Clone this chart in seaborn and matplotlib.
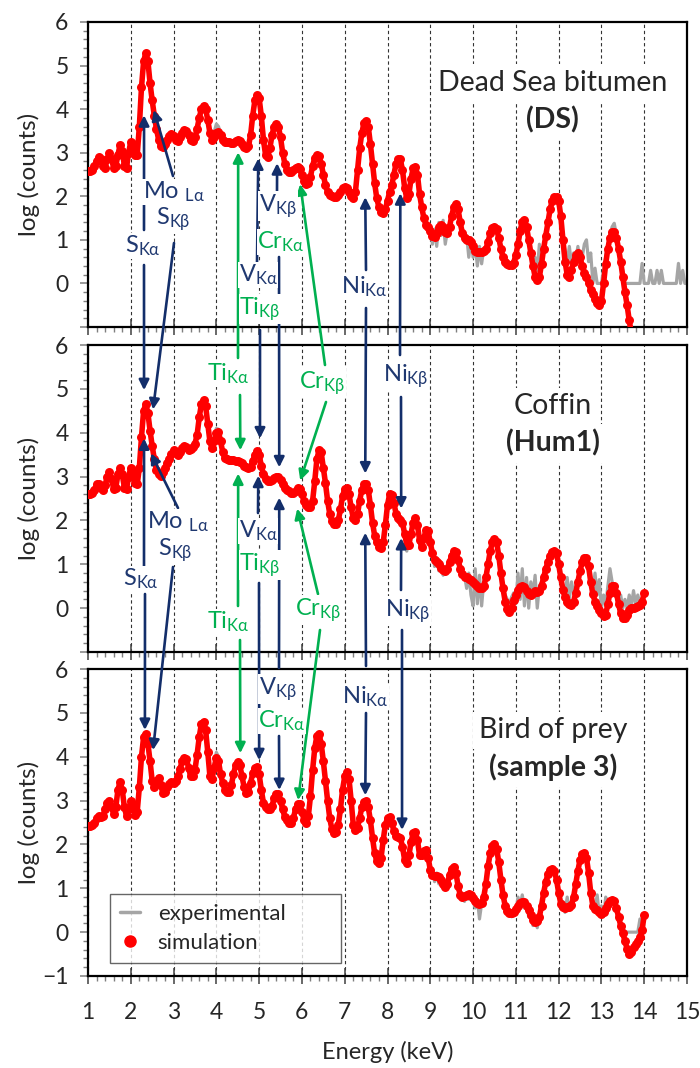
import numpy as np
import matplotlib
matplotlib.use("Agg")
import matplotlib.pyplot as plt
import seaborn as sns
from matplotlib.lines import Line2D
from matplotlib.patches import ConnectionPatch

# energy grid of the spectra (keV)
energy = np.round(np.arange(100, 1501, 5) / 100, 2)

# Dead Sea bitumen (DS) - log(counts)
ds_sim = [
    2.57, 2.57, 2.6, 2.7, 2.8, 2.9, 2.85, 2.7, 2.66, 2.85, 2.99, 2.85, 2.66, 2.7, 2.95, 3.18, 3.05, 2.7, 2.66, 3.0,
    3.25, 3.2, 2.95, 2.95, 3.6, 4.5, 5.1, 5.28, 5.1, 4.6, 4.2, 3.85, 3.55, 3.3, 3.15, 3.12, 3.2, 3.3, 3.38, 3.42,
    3.38, 3.3, 3.28, 3.35, 3.45, 3.52, 3.5, 3.4, 3.3, 3.27, 3.35, 3.55, 3.8, 4.0, 4.08, 4.0, 3.75, 3.45, 3.3, 3.35,
    3.45, 3.48, 3.4, 3.3, 3.25, 3.24, 3.24, 3.22, 3.22, 3.27, 3.3, 3.28, 3.2, 3.12, 3.1, 3.15, 3.4, 3.85, 4.2, 4.32,
    4.25, 3.85, 3.3, 2.95, 2.9, 3.1, 3.4, 3.6, 3.65, 3.6, 3.35, 3.0, 2.75, 2.6, 2.55, 2.55, 2.6, 2.65, 2.68, 2.62,
    2.5, 2.35, 2.28, 2.3, 2.45, 2.7, 2.88, 2.95, 2.92, 2.75, 2.5, 2.25, 2.1, 2.03, 2.0, 1.98, 1.98, 2.02, 2.1, 2.18,
    2.22, 2.2, 2.1, 2.0, 1.95, 2.1, 2.6, 3.1, 3.45, 3.68, 3.72, 3.6, 3.2, 2.75, 2.3, 1.95, 1.75, 1.65, 1.62, 1.7,
    1.9, 2.1, 2.25, 2.5, 2.75, 2.85, 2.85, 2.6, 2.2, 1.95, 2.05, 2.4, 2.65, 2.68, 2.5, 2.05, 1.75, 1.5, 1.35, 1.3,
    1.2, 1.1, 1.07, 1.15, 1.3, 1.35, 1.3, 1.18, 1.15, 1.3, 1.55, 1.75, 1.83, 1.7, 1.4, 1.15, 1.05, 1.0, 1.0, 0.95,
    0.85, 0.75, 0.73, 0.72, 0.73, 0.74, 0.78, 0.95, 1.15, 1.28, 1.3, 1.25, 1.05, 0.8, 0.6, 0.5, 0.45, 0.42, 0.42, 0.48,
    0.65, 0.9, 1.2, 1.42, 1.46, 1.3, 1.0, 0.7, 0.4, 0.15, 0.07, 0.15, 0.45, 0.8, 1.1, 1.4, 1.7, 1.9, 1.98, 1.99,
    1.9, 1.55, 1.0, 0.5, 0.2, 0.15, 0.3, 0.5, 0.65, 0.7, 0.6, 0.4, 0.25, 0.15, 0.0, -0.15, -0.25, -0.35, -0.45, -0.5,
    -0.4, 0.0, 0.45, 0.8, 1.05, 1.17, 1.19, 1.05, 0.8, 0.5, 0.15, -0.2, -0.5, -0.85, -1.15, -1.5,
]
ds_exp = [
    2.57, 2.58, 2.62, 2.72, 2.82, 2.9, 2.83, 2.7, 2.68, 2.86, 2.98, 2.84, 2.67, 2.72, 2.96, 3.15, 3.02, 2.72, 2.68, 3.0,
    3.22, 3.18, 3.0, 3.05, 3.7, 4.55, 5.1, 5.25, 5.05, 4.55, 4.15, 3.8, 3.5, 3.3, 3.2, 3.18, 3.22, 3.3, 3.38, 3.4,
    3.36, 3.3, 3.3, 3.36, 3.45, 3.5, 3.48, 3.4, 3.32, 3.3, 3.38, 3.58, 3.82, 4.0, 4.05, 3.95, 3.72, 3.45, 3.35, 3.48,
    3.66, 3.6, 3.45, 3.32, 3.26, 3.25, 3.24, 3.23, 3.24, 3.28, 3.3, 3.27, 3.2, 3.13, 3.1, 3.15, 3.4, 3.85, 4.18, 4.3,
    4.22, 3.82, 3.3, 2.98, 2.92, 3.1, 3.4, 3.6, 3.63, 3.57, 3.33, 3.0, 2.76, 2.62, 2.57, 2.56, 2.6, 2.65, 2.67, 2.6,
    2.5, 2.36, 2.3, 2.32, 2.47, 2.7, 2.87, 2.93, 2.9, 2.74, 2.5, 2.27, 2.12, 2.05, 2.02, 2.0, 2.0, 2.04, 2.1, 2.17,
    2.2, 2.18, 2.1, 2.02, 1.98, 2.12, 2.58, 3.08, 3.43, 3.66, 3.7, 3.58, 3.2, 2.76, 2.32, 1.98, 1.78, 1.68, 1.65, 1.72,
    1.9, 2.1, 2.26, 2.5, 2.74, 2.84, 2.83, 2.6, 2.22, 1.98, 2.07, 2.4, 2.63, 2.66, 2.48, 2.05, 1.72, 1.45, 1.4, 1.2,
    1.3, 0.9, 1.25, 0.85, 1.4, 1.1, 1.45, 0.9, 1.2, 1.35, 1.5, 1.78, 1.8, 1.65, 1.3, 1.2, 0.95, 1.1, 0.6, 1.05,
    0.6, 0.9, 0.4, 0.85, 0.45, 0.8, 0.7, 1.0, 1.1, 1.3, 1.28, 1.2, 1.0, 0.75, 0.6, 0.5, 0.42, 0.45, 0.38, 0.5,
    0.7, 0.95, 1.2, 1.4, 1.43, 1.25, 0.9, 0.75, 0.5, 0.6, 0.3, 0.9, 0.55, 0.85, 1.1, 1.4, 1.68, 1.88, 1.95, 1.96,
    1.88, 1.5, 1.0, 0.75, 0.5, 0.85, 0.45, 0.7, 0.55, 0.85, 0.5, 0.6, 0.9, 1.0, 0.5, 0.7, 0.0, 0.35, 0.0, 0.0,
    0.0, 0.3, 0.6, 0.9, 1.1, 1.3, 1.38, 1.1, 0.8, 0.5, 0.3, 0.0, 0.0, 0.0, 0.0, 0.0, 0.0, 0.0, 0.0, 0.46,
    0.0, 0.0, 0.0, 0.3, 0.0, 0.0, 0.3, 0.0, 0.3, 0.0, 0.0, 0.0, 0.0, 0.0, 0.0, 0.0, 0.46, 0.0, 0.3, 0.0,
    0.0,
]

# Coffin (Hum1)
hum_sim = [
    2.6, 2.6, 2.62, 2.7, 2.82, 2.83, 2.75, 2.7, 2.8, 3.0, 3.1, 2.95, 2.72, 2.75, 3.05, 3.2, 3.05, 2.75, 2.72, 3.0,
    3.2, 3.1, 2.85, 2.82, 3.2, 3.9, 4.5, 4.65, 4.45, 4.05, 3.7, 3.4, 3.15, 3.05, 3.02, 3.1, 3.2, 3.3, 3.4, 3.52,
    3.6, 3.55, 3.5, 3.55, 3.65, 3.7, 3.68, 3.6, 3.62, 3.68, 3.75, 3.95, 4.35, 4.65, 4.74, 4.6, 4.2, 3.8, 3.65, 3.8,
    4.0, 4.02, 3.8, 3.55, 3.42, 3.4, 3.38, 3.37, 3.37, 3.36, 3.35, 3.33, 3.3, 3.25, 3.22, 3.2, 3.22, 3.35, 3.5, 3.58,
    3.5, 3.25, 3.05, 2.95, 2.9, 2.9, 2.92, 2.96, 3.0, 3.0, 2.92, 2.83, 2.75, 2.7, 2.66, 2.63, 2.62, 2.67, 2.73, 2.72,
    2.6, 2.45, 2.35, 2.3, 2.3, 2.45, 2.9, 3.4, 3.6, 3.55, 3.2, 2.85, 2.45, 2.15, 1.98, 1.92, 1.92, 2.0, 2.25, 2.55,
    2.72, 2.75, 2.6, 2.3, 2.05, 2.0, 2.15, 2.45, 2.7, 2.82, 2.83, 2.7, 2.35, 1.95, 1.65, 1.5, 1.4, 1.38, 1.5, 1.9,
    2.35, 2.6, 2.58, 2.4, 2.15, 2.05, 2.0, 1.95, 1.7, 1.45, 1.45, 1.7, 1.95, 2.05, 1.9, 1.55, 1.4, 1.6, 1.78, 1.75,
    1.5, 1.25, 1.1, 1.05, 1.0, 0.92, 0.86, 0.85, 0.9, 1.05, 1.2, 1.3, 1.28, 1.1, 0.9, 0.78, 0.72, 0.7, 0.67, 0.64,
    0.6, 0.55, 0.5, 0.47, 0.46, 0.5, 0.7, 1.0, 1.3, 1.5, 1.57, 1.5, 1.2, 0.8, 0.45, 0.15, -0.03, -0.08, 0.0, 0.18,
    0.3, 0.42, 0.48, 0.5, 0.48, 0.4, 0.33, 0.3, 0.35, 0.38, 0.37, 0.38, 0.5, 0.7, 0.9, 1.05, 1.2, 1.28, 1.3, 1.25,
    1.0, 0.7, 0.42, 0.25, 0.15, 0.1, 0.08, 0.15, 0.35, 0.6, 0.85, 1.05, 1.15, 1.15, 0.95, 0.6, 0.32, 0.15, 0.05, -0.05,
    -0.12, -0.18, -0.15, 0.1, 0.35, 0.5, 0.5, 0.35, 0.1, -0.12, -0.22, -0.23, -0.15, -0.05, 0.0, 0.0, 0.02, 0.05, 0.08, 0.15,
    0.34,
]
hum_exp = [
    2.6, 2.61, 2.64, 2.72, 2.82, 2.82, 2.76, 2.72, 2.8, 2.98, 3.08, 2.94, 2.74, 2.77, 3.04, 3.18, 3.04, 2.77, 2.74, 3.0,
    3.18, 3.08, 2.88, 2.9, 3.3, 3.95, 4.5, 4.62, 4.4, 4.0, 3.65, 3.38, 3.15, 3.06, 3.04, 3.1, 3.2, 3.3, 3.4, 3.5,
    3.58, 3.54, 3.52, 3.56, 3.64, 3.68, 3.66, 3.62, 3.63, 3.68, 3.76, 3.97, 4.35, 4.63, 4.7, 4.55, 4.15, 3.8, 3.7, 3.9,
    4.1, 4.08, 3.82, 3.55, 3.42, 3.4, 3.38, 3.37, 3.37, 3.36, 3.35, 3.33, 3.3, 3.25, 3.22, 3.2, 3.22, 3.35, 3.5, 3.57,
    3.48, 3.24, 3.05, 2.95, 2.9, 2.9, 2.92, 2.96, 2.99, 2.99, 2.92, 2.83, 2.75, 2.7, 2.66, 2.63, 2.62, 2.67, 2.72, 2.7,
    2.58, 2.44, 2.35, 2.3, 2.32, 2.5, 2.95, 3.4, 3.58, 3.5, 3.15, 2.8, 2.42, 2.12, 1.96, 1.9, 1.92, 2.02, 2.28, 2.56,
    2.7, 2.72, 2.58, 2.3, 2.05, 2.02, 2.15, 2.44, 2.68, 2.8, 2.8, 2.68, 2.33, 1.93, 1.62, 1.45, 1.35, 1.4, 1.55, 1.9,
    2.33, 2.57, 2.55, 2.38, 2.13, 2.05, 1.98, 1.9, 1.65, 1.3, 1.5, 1.65, 1.93, 2.0, 1.85, 1.45, 1.35, 1.6, 1.75, 1.7,
    1.45, 1.3, 0.95, 1.15, 0.85, 1.05, 0.75, 0.95, 0.8, 1.1, 1.2, 1.3, 1.25, 1.05, 0.85, 0.7, 0.75, 0.45, 0.8, 0.3,
    0.05, 0.9, 0.1, 0.75, 0.05, 0.6, 0.8, 1.0, 1.28, 1.45, 1.5, 1.45, 1.15, 0.8, 0.5, 0.3, 0.2, 0.1, 0.25, 0.35,
    0.1, 0.8, 0.2, 0.9, 0.05, 0.7, 0.0, 0.6, 0.3, 0.75, 0.0, 0.5, 0.6, 0.75, 0.9, 1.05, 1.18, 1.25, 1.25, 1.2,
    1.0, 0.72, 0.5, 0.3, 0.7, 0.2, 0.6, 0.35, 0.5, 0.65, 0.85, 1.02, 1.12, 1.1, 0.9, 0.6, 0.4, 0.8, 0.3, 0.65,
    0.0, 0.3, 0.05, 0.5, 0.9, 0.6, 0.5, 0.4, 0.15, 0.3, 0.0, 0.2, 0.0, 0.3, 0.05, 0.4, 0.1, 0.3, 0.1, 0.2,
    0.35,
]

# Bird of prey (sample 3)
bird_sim = [
    2.42, 2.42, 2.44, 2.5, 2.6, 2.65, 2.62, 2.65, 2.8, 2.95, 3.0, 2.85, 2.7, 2.85, 3.25, 3.42, 3.25, 2.85, 2.65, 2.8,
    2.98, 2.9, 2.68, 2.75, 3.3, 4.0, 4.45, 4.52, 4.3, 3.9, 3.45, 3.3, 3.45, 3.52, 3.35, 3.18, 3.2, 3.3, 3.38, 3.42,
    3.4, 3.45, 3.55, 3.72, 3.9, 3.98, 3.95, 3.75, 3.55, 3.55, 3.7, 4.05, 4.45, 4.75, 4.8, 4.6, 4.1, 3.55, 3.5, 3.75,
    3.98, 3.9, 3.6, 3.4, 3.25, 3.2, 3.2, 3.35, 3.6, 3.8, 3.88, 3.8, 3.55, 3.3, 3.18, 3.2, 3.4, 3.62, 3.75, 3.77,
    3.6, 3.25, 2.95, 2.85, 2.8, 2.8, 2.88, 3.05, 3.15, 3.15, 3.0, 2.8, 2.62, 2.55, 2.5, 2.5, 2.6, 2.8, 2.92, 2.92,
    2.75, 2.55, 2.5, 2.65, 3.1, 3.7, 4.2, 4.48, 4.52, 4.3, 3.9, 3.45, 3.0, 2.6, 2.35, 2.25, 2.28, 2.45, 2.8, 3.25,
    3.55, 3.65, 3.5, 3.0, 2.45, 2.33, 2.38, 2.6, 2.85, 2.97, 2.98, 2.85, 2.55, 2.15, 1.8, 1.62, 1.57, 1.7, 2.1, 2.45,
    2.6, 2.62, 2.5, 2.3, 2.2, 2.18, 2.15, 1.95, 1.65, 1.58, 1.75, 2.05, 2.25, 2.28, 2.1, 1.75, 1.75, 1.85, 1.87, 1.7,
    1.42, 1.3, 1.28, 1.27, 1.25, 1.2, 1.1, 1.04, 1.1, 1.3, 1.45, 1.49, 1.35, 1.05, 0.85, 0.8, 0.82, 0.85, 0.86, 0.84,
    0.78, 0.7, 0.66, 0.65, 0.66, 0.8, 1.1, 1.5, 1.8, 1.97, 2.02, 1.9, 1.6, 1.2, 0.85, 0.6, 0.48, 0.44, 0.43, 0.46,
    0.52, 0.6, 0.67, 0.69, 0.68, 0.6, 0.5, 0.38, 0.28, 0.24, 0.25, 0.35, 0.6, 0.9, 1.15, 1.32, 1.42, 1.45, 1.4, 1.2,
    0.9, 0.65, 0.57, 0.56, 0.57, 0.58, 0.62, 0.8, 1.1, 1.4, 1.65, 1.78, 1.8, 1.7, 1.35, 0.9, 0.6, 0.52, 0.5, 0.45,
    0.42, 0.45, 0.55, 0.65, 0.72, 0.73, 0.7, 0.55, 0.35, 0.15, -0.03, -0.2, -0.38, -0.49, -0.45, -0.35, -0.28, -0.2, -0.12, 0.05,
    0.39,
]
bird_exp = [
    2.42, 2.43, 2.45, 2.52, 2.6, 2.64, 2.63, 2.66, 2.8, 2.94, 2.98, 2.85, 2.72, 2.87, 3.24, 3.4, 3.22, 2.85, 2.66, 2.8,
    2.96, 2.88, 2.7, 2.8, 3.35, 4.02, 4.45, 4.5, 4.28, 3.88, 3.45, 3.32, 3.45, 3.5, 3.34, 3.2, 3.22, 3.3, 3.38, 3.42,
    3.4, 3.45, 3.56, 3.72, 3.9, 3.97, 3.93, 3.74, 3.56, 3.57, 3.72, 4.05, 4.43, 4.72, 4.77, 4.55, 4.05, 3.55, 3.55, 3.85,
    4.1, 4.0, 3.65, 3.4, 3.26, 3.2, 3.2, 3.35, 3.6, 3.79, 3.86, 3.78, 3.54, 3.3, 3.18, 3.2, 3.4, 3.6, 3.73, 3.75,
    3.58, 3.24, 2.95, 2.85, 2.8, 2.8, 2.88, 3.04, 3.14, 3.13, 2.98, 2.8, 2.62, 2.55, 2.5, 2.5, 2.6, 2.78, 2.9, 2.9,
    2.72, 2.45, 2.45, 2.62, 3.08, 3.68, 4.18, 4.46, 4.5, 4.28, 3.88, 3.42, 2.95, 2.55, 2.25, 2.18, 2.22, 2.42, 2.8, 3.25,
    3.55, 3.63, 3.48, 3.0, 2.45, 2.3, 2.35, 2.58, 2.83, 2.95, 2.96, 2.83, 2.53, 2.12, 1.75, 1.55, 1.5, 1.65, 2.05, 2.43,
    2.58, 2.6, 2.48, 2.28, 2.18, 2.15, 2.1, 1.9, 1.6, 1.5, 1.72, 2.02, 2.23, 2.25, 2.05, 1.7, 1.72, 1.83, 1.85, 1.65,
    1.35, 1.4, 1.15, 1.35, 1.1, 1.3, 1.0, 1.1, 1.05, 1.3, 1.45, 1.47, 1.3, 1.0, 0.8, 0.85, 0.7, 0.9, 0.75, 0.9,
    0.7, 0.55, 0.75, 0.3, 0.65, 0.8, 1.1, 1.48, 1.78, 1.95, 2.0, 1.88, 1.58, 1.18, 0.8, 0.6, 0.45, 0.4, 0.35, 0.5,
    0.45, 0.8, 0.6, 0.85, 0.55, 0.65, 0.35, 0.5, 0.15, 0.3, 0.1, 0.4, 0.6, 0.88, 1.13, 1.3, 1.4, 1.42, 1.35, 1.15,
    0.88, 0.65, 0.7, 0.45, 0.8, 0.5, 0.65, 0.8, 1.08, 1.38, 1.62, 1.75, 1.77, 1.65, 1.3, 0.88, 0.65, 0.5, 0.85, 0.4,
    0.6, 0.35, 0.8, 0.6, 0.75, 0.72, 0.68, 0.5, 0.35, 0.2, 0.1, 0.0, 0.0, 0.0, 0.0, 0.0, 0.0, 0.0, 0.3, 0.1,
    0.3,
]

panel_names = ["Dead Sea bitumen", "Coffin", "Bird of prey"]
panel_codes = ["(DS)", "(Hum1)", "(sample 3)"]
panels = [(ds_exp, ds_sim), (hum_exp, hum_sim), (bird_exp, bird_sim)]

NAVY = "#132e6a"
NAVY_TXT = "#1f3870"
GREEN = "#00b050"
GRAY = "#a5a5a5"
RED = "#ff0000"
W, H = 700, 1068

sns.set_style("ticks")
plt.rcParams["font.family"] = ["Lato", "DejaVu Sans"]
plt.rcParams["mathtext.default"] = "regular"

fig = plt.figure(figsize=(W / 100, H / 100), dpi=100)

# axes boxes in pixels (top, bottom)
boxes = [(22, 327), (345, 652), (669, 976)]
axes = []
for i, (t, b) in enumerate(boxes):
    ax = fig.add_axes([88 / W, 1 - b / H, (687 - 88) / W, (b - t) / H])
    exp, sim = panels[i]
    sns.lineplot(x=energy[:len(exp)], y=exp, ax=ax, color=GRAY, lw=2.3,
                 legend=False, zorder=2)
    # simulation: dense red dots (red trace keeps the band continuous)
    sns.lineplot(x=energy[:len(sim)], y=sim, ax=ax, color=RED, lw=4.0,
                 legend=False, zorder=3)
    sns.scatterplot(x=energy[:len(sim)], y=sim, ax=ax, color=RED, s=42,
                    linewidth=0, legend=False, zorder=4)
    ax.set_xlim(1, 15)
    ax.set_ylim(-1, 6)
    ax.set_xticks(range(1, 16))
    ax.set_xticks(np.arange(1, 15.01, 0.2), minor=True)
    ax.set_yticks(range(-1, 7))
    ax.set_yticks(np.arange(-1, 6.01, 0.2), minor=True)
    if i < 2:
        ax.set_yticklabels([""] + [str(v) for v in range(0, 7)])
        ax.set_xticklabels([])
    ax.grid(True, axis="x", which="major", color="#333333",
            linestyle=(0, (3, 2.5)), linewidth=0.8, zorder=0)
    ax.tick_params(axis="y", which="major", direction="out", length=6,
                   width=1.1, color="#7f7f7f", labelsize=16.5, pad=8)
    ax.tick_params(axis="x", which="major", direction="inout", length=11,
                   width=1.1, color="#404040", labelsize=16.5, pad=13)
    ax.tick_params(axis="both", which="minor", direction="out", length=3.5,
                   width=1.0, color="#7f7f7f")
    for sp in ax.spines.values():
        sp.set_visible(True)
        sp.set_linewidth(1.6)
        sp.set_color("black")
    ax.set_ylabel("log (counts)", fontsize=17.5)
    ax.set_xlabel("")
    ax.text(0.776, 0.80, panel_names[i], transform=ax.transAxes, ha="center",
            va="center", fontsize=20.5,
            bbox=dict(boxstyle="square,pad=0.2", fc="white", ec="none"))
    ax.text(0.776, 0.68, panel_codes[i], transform=ax.transAxes, ha="center",
            va="center", fontsize=20.5, fontweight="bold",
            bbox=dict(boxstyle="square,pad=0.2", fc="white", ec="none"))
    axes.append(ax)

axes[2].set_xlabel("Energy (keV)", fontsize=17, labelpad=13)
for ax in axes:
    ax.yaxis.set_label_coords(-0.080, 0.5)

handles = [Line2D([], [], color=GRAY, lw=2.5),
           Line2D([], [], ls="", marker="o", color=RED, markersize=8)]
leg = axes[2].legend(handles, ["experimental", "simulation"], loc="lower left",
                     bbox_to_anchor=(22 / 599, 13 / 307, 231 / 599, 0.2), mode="expand",
                     fontsize=16, frameon=True, fancybox=False, handlelength=0.9,
                     handletextpad=0.8, borderpad=0.45, labelspacing=0.4,
                     borderaxespad=0)
leg.get_frame().set_edgecolor("#404040")
leg.get_frame().set_linewidth(1.0)

# line labels (text, colour, x px, y px)
labels = [
    ("S$_{Kα}$", NAVY_TXT, 143, 246),
    ("Mo $_{Lα}$", NAVY_TXT, 174, 192),
    ("S$_{Kβ}$", NAVY_TXT, 173, 219),
    ("V$_{Kβ}$", NAVY_TXT, 278, 206),
    ("Cr$_{Kα}$", GREEN, 281, 242),
    ("V$_{Kα}$", NAVY_TXT, 258, 275),
    ("Ti$_{Kβ}$", GREEN, 260, 309),
    ("Ni$_{Kα}$", NAVY_TXT, 364, 287),
    ("Ti$_{Kα}$", GREEN, 228, 374),
    ("Cr$_{Kβ}$", GREEN, 322, 383),
    ("Ni$_{Kβ}$", NAVY_TXT, 406, 376),
    ("Mo $_{Lα}$", NAVY_TXT, 178, 522),
    ("S$_{Kβ}$", NAVY_TXT, 175, 550),
    ("S$_{Kα}$", NAVY_TXT, 141, 579),
    ("V$_{Kα}$", NAVY_TXT, 258, 531),
    ("Ti$_{Kβ}$", GREEN, 260, 565),
    ("Ti$_{Kα}$", GREEN, 228, 622),
    ("Cr$_{Kβ}$", GREEN, 318, 610),
    ("Ni$_{Kβ}$", NAVY_TXT, 408, 611),
    ("V$_{Kβ}$", NAVY_TXT, 278, 689),
    ("Cr$_{Kα}$", GREEN, 282, 721),
    ("Ni$_{Kα}$", NAVY_TXT, 365, 697),
]
for txt, col, px, py in labels:
    fig.text(px / W, 1 - py / H, txt, color=col, fontsize=17, ha="center",
             va="center", zorder=5,
             bbox=dict(boxstyle="square,pad=0.03", fc="white", ec="none"))

# arrows: (panel, energy, log counts, tail x px, tail y px, colour)
arrows = [
    (0, 2.31, 3.86, 144, 230, NAVY), (1, 2.31, 4.97, 144, 265, NAVY),
    (0, 2.54, 3.98, 173, 176, NAVY), (1, 2.52, 4.53, 174, 243, NAVY),
    (0, 5.42, 2.76, 277, 193, NAVY), (1, 5.47, 3.21, 279, 257, NAVY),
    (0, 4.98, 2.87, 257, 263, NAVY), (1, 5.02, 3.87, 260, 330, NAVY),
    (0, 7.48, 1.98, 366, 270, NAVY), (1, 7.48, 3.07, 366, 308, NAVY),
    (0, 4.51, 3.01, 238, 358, GREEN), (1, 4.56, 3.60, 240, 395, GREEN),
    (0, 5.96, 2.28, 325, 365, GREEN), (1, 5.96, 2.91, 326, 402, GREEN),
    (0, 8.30, 2.07, 400, 355, NAVY), (1, 8.32, 2.27, 401, 397, NAVY),
    (1, 2.31, 3.87, 144, 566, NAVY), (2, 2.33, 4.61, 145, 594, NAVY),
    (1, 2.47, 3.53, 178, 508, NAVY), (2, 2.52, 4.15, 173, 567, NAVY),
    (1, 4.98, 3.02, 258, 513, NAVY), (2, 5.00, 3.92, 259, 583, NAVY),
    (1, 4.51, 3.07, 238, 606, GREEN), (2, 4.56, 4.08, 240, 640, GREEN),
    (1, 5.89, 2.27, 318, 594, GREEN), (2, 5.91, 3.01, 320, 630, GREEN),
    (1, 8.32, 1.60, 401, 590, NAVY), (2, 8.34, 2.33, 402, 630, NAVY),
    (1, 5.47, 2.52, 279, 668, NAVY), (2, 5.47, 3.24, 279, 736, NAVY),
    (1, 7.48, 1.72, 366, 666, NAVY), (2, 7.48, 3.12, 366, 713, NAVY),
]
for k, e, v, px, py, col in arrows:
    con = ConnectionPatch(xyA=(px / W, 1 - py / H), coordsA="figure fraction",
                          xyB=(e, v), coordsB=axes[k].transData,
                          arrowstyle="-|>,head_length=0.5,head_width=0.25",
                          mutation_scale=12, color=col, lw=1.9, zorder=4)
    fig.add_artist(con)

fig.savefig("out.png", dpi=100)
